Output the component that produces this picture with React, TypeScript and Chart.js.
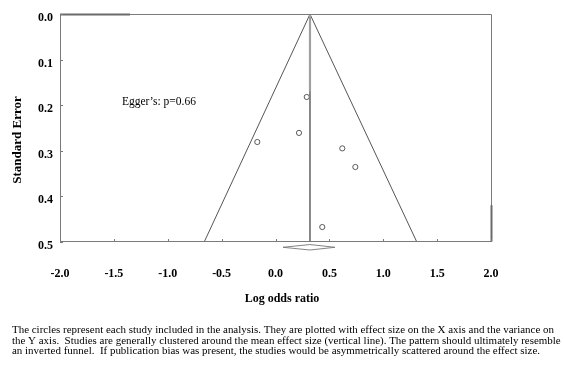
import React, { useEffect, useRef } from "react";
import { Chart, registerables } from "chart.js";

Chart.register(...registerables);

// ---- data ----
const studyEffect = [0.29, 0.218, -0.169, 0.62, 0.741, 0.434];
const studySE = [0.182, 0.261, 0.281, 0.295, 0.336, 0.468];

const meanEffect = 0.32;
const meanLineSE = [0, 0.5];
const meanLineBoldSE = [0, 0.17];

const funnelX = [-0.66, 0.32, 1.31];
const funnelSE = [0.5, 0, 0.5];

const diamondX = [0.07, 0.32, 0.552, 0.32, 0.07];
const diamondSE = [0.5125, 0.5065, 0.5125, 0.5185, 0.5125];

const xMin = -2;
const xMax = 2;
const xStep = 0.5;
const yMin = 0;
const yMax = 0.5;
const yStep = 0.1;

const xTitle = "Log odds ratio";
const yTitle = "Standard Error";
const eggerText = "Egger\u2019s: p=0.66";
const eggerX = -1.425;
const eggerSE = 0.193;

const captionLines = [
  "The circles represent each study included in the analysis. They are plotted with effect size on the X axis and the variance on",
  "the Y axis.  Studies are generally clustered around the mean effect size (vertical line). The pattern should ultimately resemble",
  "an inverted funnel.  If publication bias was present, the studies would be asymmetrically scattered around the effect size.",
];

const SERIF = "'Liberation Serif', 'Times New Roman', serif";

const decorPlugin = {
  id: "decor",
  afterDraw(chart: any) {
    const { ctx, chartArea } = chart;
    const { left, right, top, bottom } = chartArea;
    const xs = chart.scales.x;
    const ys = chart.scales.y;
    ctx.save();
    // frame
    ctx.strokeStyle = "#7a7a7a";
    ctx.lineWidth = 1;
    ctx.beginPath();
    ctx.rect(Math.round(left) + 0.5, Math.round(top) + 0.5, Math.round(right - left), Math.round(bottom - top));
    ctx.stroke();
    // darker segments of the frame
    ctx.lineWidth = 2;
    ctx.strokeStyle = "#6a6a6a";
    ctx.beginPath();
    ctx.moveTo(left, Math.round(top) + 0.5);
    ctx.lineTo(xs.getPixelForValue(-1.35), Math.round(top) + 0.5);
    ctx.moveTo(Math.round(right) + 0.5, ys.getPixelForValue(0.42));
    ctx.lineTo(Math.round(right) + 0.5, bottom);
    ctx.stroke();
    // inward ticks
    ctx.lineWidth = 1;
    ctx.strokeStyle = "#7a7a7a";
    ctx.beginPath();
    xs.ticks.forEach((t: any) => {
      const px = Math.round(xs.getPixelForValue(t.value)) + 0.5;
      ctx.moveTo(px, Math.round(bottom));
      ctx.lineTo(px, Math.round(bottom) - 3);
    });
    ys.ticks.forEach((t: any) => {
      const py = Math.round(ys.getPixelForValue(t.value)) + 0.5;
      ctx.moveTo(Math.round(left), py);
      ctx.lineTo(Math.round(left) + 3, py);
    });
    ctx.stroke();

    ctx.fillStyle = "#000";
    // Egger text
    ctx.font = `11.5px ${SERIF}`;
    ctx.textAlign = "left";
    ctx.textBaseline = "middle";
    ctx.fillText(eggerText, xs.getPixelForValue(eggerX), ys.getPixelForValue(eggerSE));

    // axis titles
    ctx.font = `bold 12px ${SERIF}`;
    ctx.textAlign = "center";
    ctx.fillText(xTitle, 282, 299);
    ctx.save();
    ctx.font = `bold 13px ${SERIF}`;
    ctx.translate(18, 140);
    ctx.rotate(-Math.PI / 2);
    ctx.fillText(yTitle, 0, 0);
    ctx.restore();

    // caption (slightly condensed serif, as in the reference)
    ctx.font = `10.8px ${SERIF}`;
    const w = ctx.measureText(captionLines[0]).width;
    const sx = 542 / w;
    ctx.textAlign = "left";
    captionLines.forEach((line, i) => {
      ctx.save();
      ctx.translate(12, 330 + i * 10.8);
      ctx.scale(sx, 1);
      ctx.fillText(line, 0, 0);
      ctx.restore();
    });
    ctx.restore();
  },
};

export default function App() {
  const ref = useRef<HTMLCanvasElement | null>(null);

  useEffect(() => {
    document.body.style.margin = "0";
    const canvas = ref.current;
    if (!canvas) return;

    const studies = studyEffect.map((x, i) => ({ x, y: studySE[i] }));
    const funnel = funnelX.map((x, i) => ({ x, y: funnelSE[i] }));
    const meanLine = meanLineSE.map((y) => ({ x: meanEffect, y }));
    const meanBold = meanLineBoldSE.map((y) => ({ x: meanEffect, y }));
    const diamond = diamondX.map((x, i) => ({ x, y: diamondSE[i] }));

    const chart = new Chart(canvas, {
      type: "scatter",
      data: {
        datasets: [
          {
            label: "mean bold",
            data: meanBold,
            showLine: true,
            borderColor: "#a0a0a0",
            borderWidth: 2.2,
            pointRadius: 0,
          },
          {
            label: "mean",
            data: meanLine,
            showLine: true,
            borderColor: "#777",
            borderWidth: 1,
            pointRadius: 0,
          },
          {
            label: "funnel",
            data: funnel,
            showLine: true,
            borderColor: "#555",
            borderWidth: 1,
            pointRadius: 0,
          },
          {
            label: "pooled",
            data: diamond,
            showLine: true,
            borderColor: "#777",
            backgroundColor: "#fff",
            fill: false,
            borderWidth: 0.9,
            pointRadius: 0,
            clip: false,
          } as any,
          {
            label: "studies",
            data: studies,
            pointRadius: 2.6,
            pointBorderWidth: 0.8,
            pointBorderColor: "#333",
            pointBackgroundColor: "#fff",
            pointStyle: "circle",
          },
        ],
      },
      options: {
        responsive: false,
        animation: false,
        events: [],
        layout: { padding: { left: 31, right: 73, top: 9, bottom: 65 } },
        plugins: {
          legend: { display: false },
          tooltip: { enabled: false },
          title: { display: false },
        },
        scales: {
          x: {
            type: "linear",
            min: xMin,
            max: xMax,
            grid: { display: false, drawTicks: false },
            border: { display: false },
            ticks: {
              stepSize: xStep,
              padding: 25,
              color: "#000",
              font: { family: SERIF, size: 12, weight: "bold" },
              callback: (v: any) => Number(v).toFixed(1),
              maxRotation: 0,
              autoSkip: false,
            },
          },
          y: {
            type: "linear",
            reverse: true,
            min: yMin,
            max: yMax,
            grid: { display: false, drawTicks: false },
            border: { display: false },
            ticks: {
              stepSize: yStep,
              padding: 7,
              labelOffset: 4,
              color: "#000",
              font: { family: SERIF, size: 12, weight: "bold" },
              callback: (v: any) => Number(v).toFixed(1),
              autoSkip: false,
            },
          },
        },
      },
      plugins: [decorPlugin],
    });

    return () => chart.destroy();
  }, []);

  return (
    <div style={{ width: 564, height: 371, background: "#fff" }}>
      <canvas ref={ref} width={564} height={371} style={{ display: "block" }} />
    </div>
  );
}
